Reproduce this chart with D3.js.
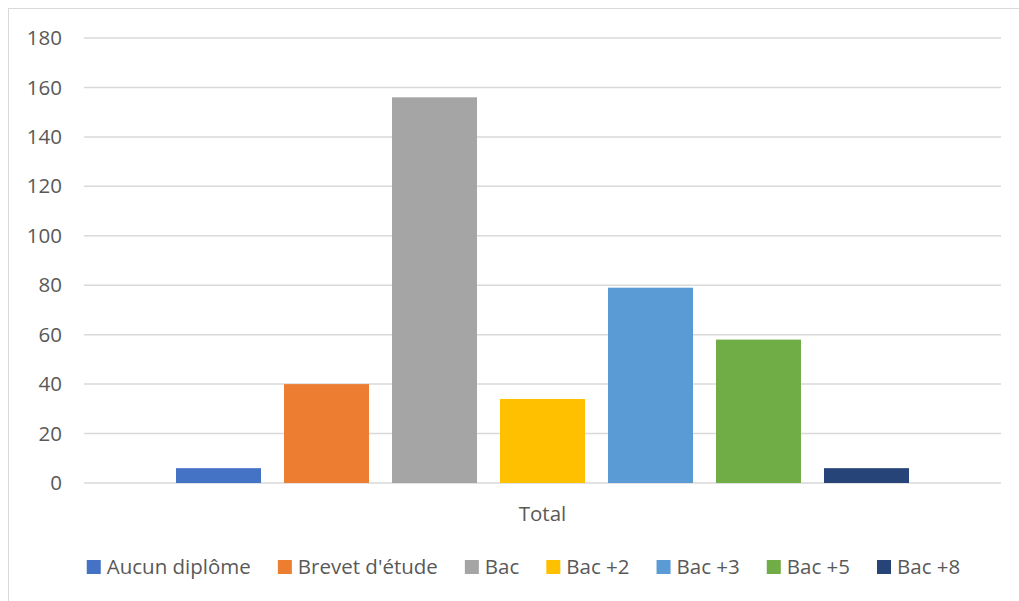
<!DOCTYPE html>
<html>
<head>
<meta charset="utf-8">
<script src="https://cdn.jsdelivr.net/npm/d3@7"></script>
<style>
  html, body { margin: 0; padding: 0; background: #fff; }
  svg { display: block; }
  text { font-family: "Open Sans", "Noto Sans", sans-serif; fill: #595959; }
</style>
</head>
<body>
<svg id="chart" width="1019" height="601"></svg>
<script>
// Data
const categories = ["Total"];
const seriesNames = ["Aucun diplôme", "Brevet d'étude", "Bac", "Bac +2", "Bac +3", "Bac +5", "Bac +8"];
const seriesValues = [6, 40, 156, 34, 79, 58, 6];
const seriesColors = ["#4472C4", "#ED7D31", "#A5A5A5", "#FFC000", "#5B9BD5", "#70AD47", "#264478"];
const yTicks = [0, 20, 40, 60, 80, 100, 120, 140, 160, 180];

const svg = d3.select("#chart");
const W = 1019, H = 601;
const plot = { left: 84, right: 1001, top: 38, bottom: 483 };

// outer chart border (cropped on right/bottom)
svg.append("rect")
  .attr("x", 8.5).attr("y", 8.5)
  .attr("width", 1100).attr("height", 700)
  .attr("fill", "none").attr("stroke", "#d9d9d9").attr("stroke-width", 1);

const y = d3.scaleLinear().domain([0, 180]).range([plot.bottom, plot.top]);
const x0 = d3.scaleBand().domain(categories).range([plot.left, plot.right]).padding(0);
const x1 = d3.scaleBand().domain(seriesNames)
  .range([0, x0.bandwidth()])
  .paddingInner(0.213).paddingOuter(0.852);

// gridlines
svg.append("g").selectAll("line").data(yTicks).join("line")
  .attr("x1", plot.left).attr("x2", plot.right)
  .attr("y1", d => y(d)).attr("y2", d => y(d))
  .attr("stroke", "#d9d9d9").attr("stroke-width", 1.5);

// y axis labels
const yAxis = d3.axisLeft(y).tickValues(yTicks).tickSize(0).tickPadding(0);
const gy = svg.append("g").attr("transform", "translate(62,0)").call(yAxis);
gy.select(".domain").remove();
gy.selectAll("text")
  .attr("font-size", 20.5)
  .attr("fill", "#595959")
  .style("font-family", '"Open Sans", "Noto Sans", sans-serif');

// bars
const data = seriesNames.map((s, i) => ({ name: s, value: seriesValues[i], color: seriesColors[i] }));
categories.forEach(cat => {
  svg.append("g").attr("transform", `translate(${x0(cat)},0)`)
    .selectAll("rect").data(data).join("rect")
    .attr("x", d => x1(d.name))
    .attr("width", x1.bandwidth())
    .attr("y", d => y(d.value))
    .attr("height", d => y(0) - y(d.value))
    .attr("fill", d => d.color);
});

// category label
const xAxis = d3.axisBottom(x0).tickSize(0).tickPadding(0);
const gx = svg.append("g").attr("transform", `translate(0,${plot.bottom})`).call(xAxis);
gx.select(".domain").remove();
gx.selectAll("text")
  .attr("font-size", 20.5)
  .attr("fill", "#595959")
  .attr("dy", null)
  .attr("y", 38)
  .style("font-family", '"Open Sans", "Noto Sans", sans-serif');

// legend
const legend = svg.append("g");
const sq = 14, gapText = 6, gapItem = 27;
const items = legend.selectAll("g").data(data).join("g");
items.append("rect").attr("width", sq).attr("height", sq).attr("y", 560).attr("fill", d => d.color);
items.append("text").attr("x", sq + gapText).attr("y", 574).attr("font-size", 20.5).text(d => d.name);
let cx = 0;
items.each(function() {
  const g = d3.select(this);
  const w = g.select("text").node().getComputedTextLength();
  g.attr("data-w", sq + gapText + w);
});
let total = 0;
items.each(function(d, i) { total += +d3.select(this).attr("data-w") + (i > 0 ? gapItem : 0); });
const legendCenter = 523.5;
cx = legendCenter - total / 2;
items.each(function() {
  const g = d3.select(this);
  g.attr("transform", `translate(${cx},0)`);
  cx += +g.attr("data-w") + gapItem;
});
</script>
</body>
</html>
